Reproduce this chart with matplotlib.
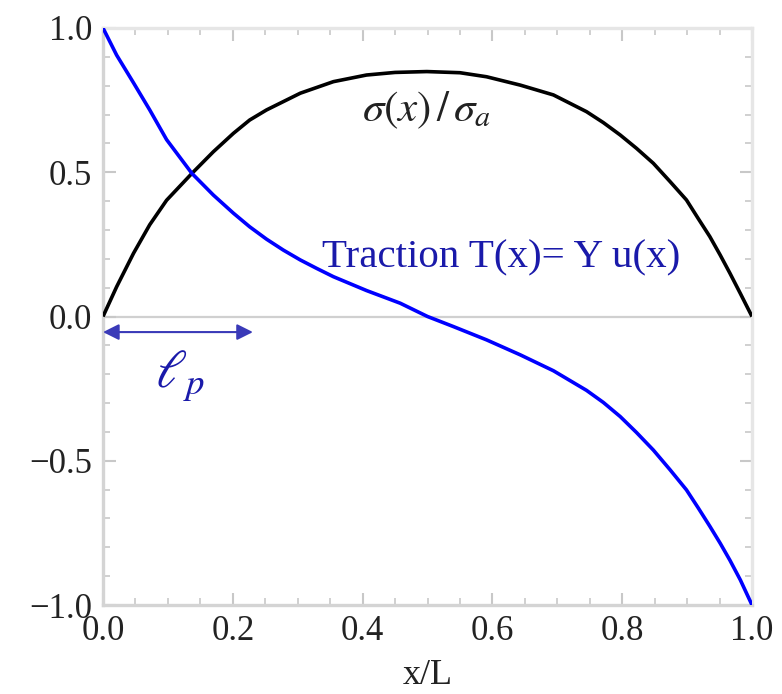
import matplotlib
matplotlib.use("Agg")
import matplotlib.pyplot as plt
from matplotlib.ticker import MultipleLocator, FixedLocator

plt.rcParams['font.family'] = ['Liberation Serif', 'DejaVu Serif']
plt.rcParams['mathtext.fontset'] = 'stix'

# sigma(x)/sigma_a (black curve)
sigma_x = [0.0, 0.021, 0.047, 0.072, 0.098, 0.137, 0.170, 0.201, 0.226, 0.252, 0.304,
           0.355, 0.406, 0.45, 0.499, 0.55, 0.591, 0.643, 0.694, 0.745, 0.771, 0.797,
           0.822, 0.848, 0.874, 0.899, 0.917, 0.935, 0.951, 0.966, 0.982, 1.0]
sigma_y = [0.0, 0.103, 0.219, 0.318, 0.403, 0.496, 0.571, 0.635, 0.681, 0.716, 0.774,
           0.814, 0.837, 0.846, 0.849, 0.845, 0.831, 0.802, 0.768, 0.710, 0.672, 0.629,
           0.583, 0.531, 0.467, 0.404, 0.340, 0.277, 0.213, 0.150, 0.080, 0.0]

# Traction T(x) = Y u(x) (blue curve)
trac_x = [0.0, 0.021, 0.047, 0.072, 0.098, 0.137, 0.170, 0.201, 0.226, 0.252, 0.278,
          0.304, 0.329, 0.355, 0.406, 0.458, 0.50, 0.540, 0.591, 0.643, 0.694, 0.745,
          0.771, 0.797, 0.822, 0.848, 0.874, 0.899, 0.917, 0.935, 0.951, 0.966, 0.982, 1.0]
trac_y = [1.0, 0.906, 0.810, 0.716, 0.613, 0.496, 0.421, 0.358, 0.311, 0.268, 0.230,
          0.196, 0.167, 0.138, 0.090, 0.046, 0.0, -0.035, -0.081, -0.133, -0.188, -0.256,
          -0.298, -0.347, -0.402, -0.463, -0.532, -0.601, -0.663, -0.727, -0.786, -0.845,
          -0.913, -1.0]

xticks = [0.0, 0.2, 0.4, 0.6, 0.8, 1.0]
xtick_labels = ["0.0", "0.2", "0.4", "0.6", "0.8", "1.0"]
yticks = [-1.0, -0.5, 0.0, 0.5, 1.0]
ytick_labels = ["\u22121.0", "\u22120.5", "0.0", "0.5", "1.0"]

fig = plt.figure(figsize=(7.82, 6.94), dpi=100)
ax = fig.add_axes([103/782, 1 - 605/694, (752-103)/782, (605-28)/694])

ax.axhline(0, color='#d0d0d0', lw=1.6, zorder=1)
ax.plot(sigma_x, sigma_y, color='black', lw=2.6, zorder=3, solid_capstyle='butt',
        solid_joinstyle='round')
ax.plot(trac_x, trac_y, color='#0000ff', lw=2.6, zorder=4, solid_capstyle='butt',
        solid_joinstyle='round')

ax.set_xlim(0, 1)
ax.set_ylim(-1, 1)
ax.xaxis.set_major_locator(FixedLocator(xticks))
ax.yaxis.set_major_locator(FixedLocator(yticks))
ax.set_xticklabels(xtick_labels)
ax.set_yticklabels(ytick_labels)
ax.xaxis.set_minor_locator(MultipleLocator(0.05))
ax.yaxis.set_minor_locator(MultipleLocator(0.1))

ax.tick_params(which='both', direction='in', top=True, right=True, color='#c8c8c8',
               labelsize=25, labelcolor='#222222')
ax.tick_params(which='major', length=9, width=1.5)
ax.tick_params(which='minor', length=5, width=1.2)
ax.tick_params(axis='x', pad=7)
ax.tick_params(axis='y', pad=8)

for side in ['left', 'bottom']:
    ax.spines[side].set_color('#d4d4d4')
    ax.spines[side].set_linewidth(2.4)
for side in ['top', 'right']:
    ax.spines[side].set_color('#e6e6e6')
    ax.spines[side].set_linewidth(2.4)

ax.set_xlabel('x/L', fontsize=26, color='#222222', labelpad=8)

ax.text(0.499, 0.716, r'$\sigma(x)\,/\,\sigma_a$', fontsize=31, color='#222222',
        ha='center', va='center', zorder=5)
ax.text(0.613, 0.203, 'Traction T(x)= Y u(x)', fontsize=29.5, color='#1a1aaa',
        ha='center', va='center', zorder=5)

ax.annotate('', xy=(0.0, -0.054), xytext=(0.231, -0.054),
            arrowprops=dict(arrowstyle='<|-|>', color='#3a3ab8', lw=1.5,
                            mutation_scale=24, shrinkA=0, shrinkB=0), zorder=5)
ax.text(0.119, -0.205, r'$\ell_p$', fontsize=38, color='#1a1aaa',
        ha='center', va='center', zorder=5)

fig.savefig('out.png', dpi=100)
